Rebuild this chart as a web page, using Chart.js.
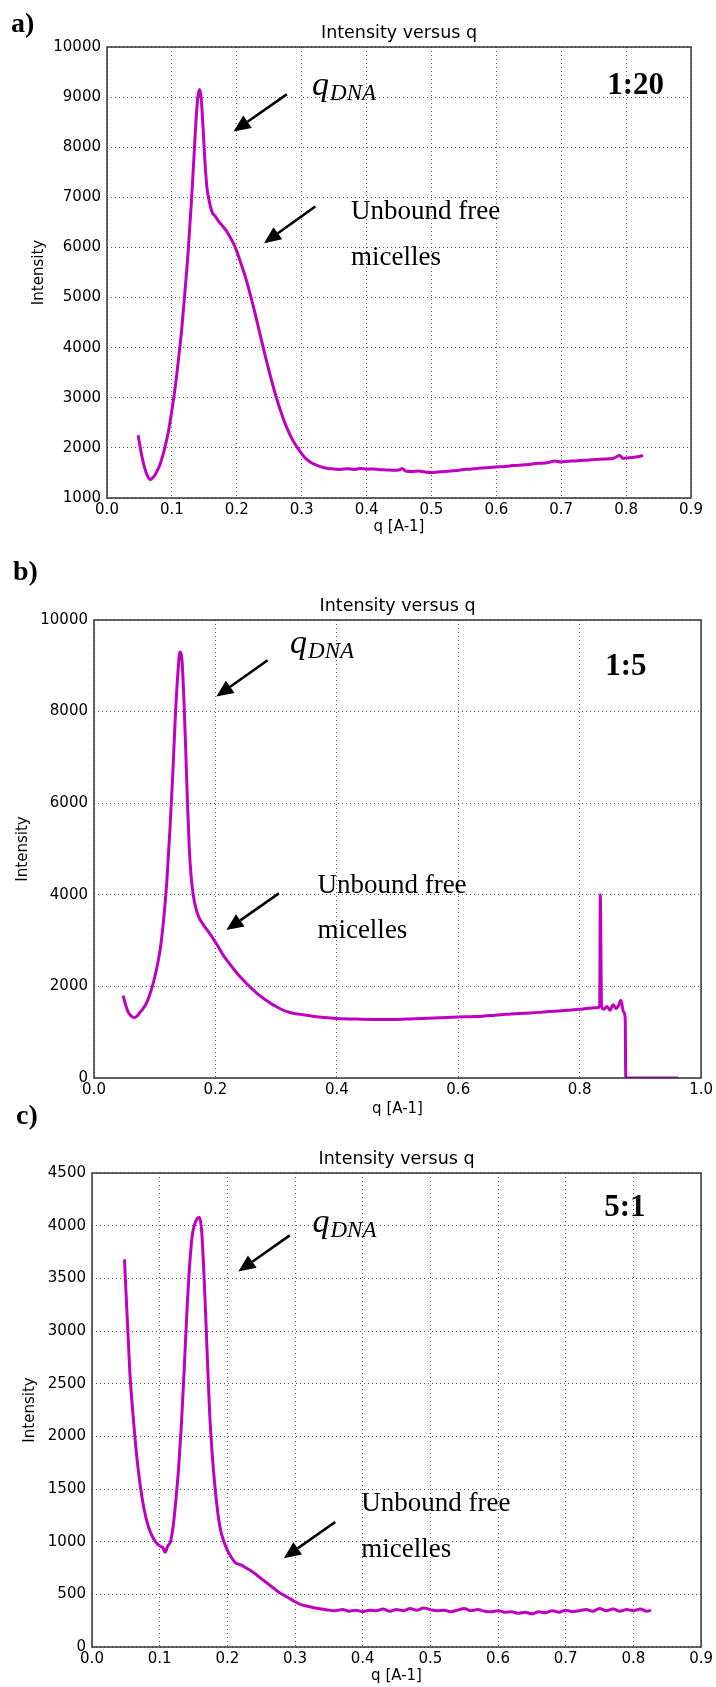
<!DOCTYPE html>
<html>
<head>
    <meta charset="utf-8">
    <title>Intensity versus q</title>
    <script src="https://cdn.jsdelivr.net/npm/chart.js"></script>
    <style>
        body { margin: 0; background: #fff; width: 716px; height: 1687px; position: relative; overflow: hidden; }
        canvas { position: absolute; left: 0; }
    </style>
</head>
<body>
    <canvas id="chartA" width="716" height="550" style="top:0px"></canvas>
    <canvas id="chartB" width="716" height="580" style="top:545px"></canvas>
    <canvas id="chartC" width="716" height="597" style="top:1090px"></canvas>
    <script>
        // a) 1:20
        var qA = [0.048, 0.052, 0.056, 0.060, 0.064, 0.067, 0.070, 0.074, 0.078, 0.082, 0.086, 0.090, 0.095, 0.100, 0.105, 0.110,
            0.115, 0.120, 0.125, 0.130, 0.134, 0.137, 0.140, 0.1425, 0.145, 0.148, 0.151, 0.154, 0.158, 0.162, 0.167, 0.172,
            0.178, 0.184, 0.190, 0.196, 0.202, 0.208, 0.214, 0.220, 0.226, 0.232, 0.238, 0.244, 0.250, 0.256, 0.262, 0.268,
            0.274, 0.280, 0.286, 0.292, 0.298, 0.304, 0.312, 0.320, 0.330, 0.340, 0.350, 0.360, 0.37, 0.38, 0.39, 0.40, 0.41,
            0.42, 0.43, 0.44, 0.45, 0.455, 0.46, 0.47, 0.48, 0.49, 0.50, 0.51, 0.52, 0.53, 0.54, 0.55, 0.56, 0.57, 0.58, 0.59,
            0.60, 0.61, 0.62, 0.63, 0.64, 0.65, 0.66, 0.67, 0.68, 0.69, 0.70, 0.71, 0.72, 0.73, 0.74, 0.75, 0.76, 0.77, 0.78,
            0.79, 0.795, 0.80, 0.81, 0.82, 0.826];
        var intensityA = [2250, 1950, 1700, 1520, 1400, 1370, 1400, 1460, 1560, 1680, 1850, 2050, 2350, 2750, 3200, 3750,
            4350, 5100, 5900, 6900, 7800, 8500, 9000, 9150, 9000, 8400, 7700, 7200, 6900, 6700, 6620, 6520,
            6430, 6330, 6200, 6050, 5850, 5620, 5380, 5100, 4800, 4480, 4150, 3830, 3520, 3230, 2960, 2720,
            2500, 2320, 2160, 2030, 1920, 1820, 1730, 1670, 1620, 1590, 1580, 1570, 1585, 1570, 1590, 1575, 1580,
            1565, 1560, 1555, 1560, 1590, 1540, 1530, 1540, 1520, 1510, 1520, 1530, 1540, 1550, 1570, 1575, 1590, 1600, 1610,
            1620, 1625, 1640, 1650, 1660, 1670, 1690, 1695, 1710, 1740, 1720, 1735, 1740, 1750, 1755, 1765, 1775, 1780, 1790,
            1850, 1790, 1800, 1810, 1830, 1850];

        // b) 1:5
        var qB = [0.048, 0.052, 0.056, 0.060, 0.065, 0.070, 0.075, 0.080, 0.085, 0.090, 0.095, 0.100, 0.105, 0.110, 0.115,
            0.120, 0.125, 0.130, 0.134, 0.138, 0.1415, 0.145, 0.148, 0.151, 0.154, 0.157, 0.160, 0.164, 0.168, 0.173, 0.180,
            0.188, 0.196, 0.204, 0.212, 0.220, 0.230, 0.240, 0.250, 0.260, 0.270, 0.280, 0.290, 0.300, 0.310, 0.320, 0.330,
            0.345, 0.360, 0.380, 0.40, 0.42, 0.44, 0.46, 0.48, 0.50, 0.52, 0.54, 0.56, 0.58, 0.60, 0.62, 0.64, 0.66, 0.68,
            0.70, 0.72, 0.74, 0.76, 0.78, 0.80, 0.82, 0.833, 0.834, 0.836, 0.840, 0.845, 0.850, 0.855, 0.860, 0.864, 0.868,
            0.872, 0.875, 0.876, 0.962];
        var intensityB = [1800, 1600, 1450, 1370, 1320, 1340, 1420, 1500, 1600, 1750, 1950, 2200, 2500, 2900, 3500,
            4300, 5400, 6700, 7900, 8800, 9300, 9100, 8300, 7200, 6000, 5000, 4400, 3950, 3700, 3500, 3350,
            3200, 3050, 2880, 2700, 2550, 2380, 2220, 2080, 1950, 1830, 1730, 1640, 1560, 1490, 1440, 1410,
            1380, 1350, 1320, 1300, 1290, 1285, 1280, 1275, 1280, 1290, 1300, 1310, 1320, 1330, 1340, 1350, 1370, 1390,
            1410, 1420, 1440, 1460, 1480, 1500, 1530, 1550, 4000, 1580, 1500, 1560, 1480, 1600, 1520, 1580, 1700,
            1450, 1300, 0, 0];

        // c) 5:1
        var qC = [0.048, 0.050, 0.053, 0.056, 0.060, 0.064, 0.068, 0.072, 0.076, 0.080, 0.085, 0.090, 0.095, 0.100, 0.105,
            0.108, 0.112, 0.116, 0.120, 0.124, 0.128, 0.132, 0.136, 0.140, 0.144, 0.148, 0.152, 0.156, 0.159, 0.162, 0.165,
            0.168, 0.171, 0.174, 0.178, 0.182, 0.186, 0.190, 0.195, 0.200, 0.206, 0.212, 0.220, 0.228, 0.236, 0.244, 0.252,
            0.260, 0.268, 0.276, 0.284, 0.292, 0.300, 0.310, 0.320, 0.330, 0.340, 0.350, 0.36, 0.37, 0.38, 0.39, 0.40, 0.41,
            0.42, 0.43, 0.44, 0.45, 0.46, 0.47, 0.48, 0.49, 0.50, 0.51, 0.52, 0.53, 0.54, 0.55, 0.56, 0.57, 0.58, 0.59, 0.60,
            0.61, 0.62, 0.63, 0.64, 0.65, 0.66, 0.67, 0.68, 0.69, 0.70, 0.71, 0.72, 0.73, 0.74, 0.75, 0.76, 0.77, 0.78, 0.79,
            0.80, 0.81, 0.82, 0.826];
        var intensityC = [3680, 3400, 3000, 2600, 2250, 1950, 1700, 1500, 1340, 1220, 1110, 1040, 990, 960, 940,
            900, 960, 1000, 1150, 1400, 1700, 2100, 2600, 3150, 3600, 3900, 4020, 4070, 4080, 3950, 3600,
            3150, 2650, 2200, 1800, 1500, 1270, 1110, 1000, 920, 850, 800, 780, 750, 720, 680, 640,
            600, 560, 520, 490, 460, 430, 400, 385, 370, 360, 350, 345, 355, 340, 350, 335, 350,
            345, 360, 340, 355, 345, 365, 350, 370, 355, 345, 350, 335, 350, 365, 345, 355, 340, 335, 345,
            330, 335, 320, 330, 315, 335, 325, 345, 330, 350, 335, 345, 355, 340, 365, 345, 360, 340, 355,
            345, 360, 340, 350];

        var xTicksA = [0, 0.9, 0.1];
        var yTicksA = [1000, 10000, 1000];
        var xTicksB = [0, 1.0, 0.2];
        var yTicksB = [0, 10000, 2000];
        var xTicksC = [0, 0.9, 0.1];
        var yTicksC = [0, 4500, 500];

        var lineColor = '#c000c0';
        var tickFont = { family: 'DejaVu Sans', size: 15 };

        function drawArrow(ctx, x1, y1, x2, y2) {
            var ang = Math.atan2(y2 - y1, x2 - x1);
            var len = 17, half = 7.5;
            var bx = x2 - len * Math.cos(ang), by = y2 - len * Math.sin(ang);
            ctx.strokeStyle = '#000';
            ctx.lineWidth = 2.6;
            ctx.beginPath();
            ctx.moveTo(x1, y1);
            ctx.lineTo(bx, by);
            ctx.stroke();
            ctx.fillStyle = '#000';
            ctx.beginPath();
            ctx.moveTo(x2, y2);
            ctx.lineTo(bx + half * Math.sin(ang), by - half * Math.cos(ang));
            ctx.lineTo(bx - half * Math.sin(ang), by + half * Math.cos(ang));
            ctx.closePath();
            ctx.fill();
        }

        function makePanel(cfg) {
            var points = cfg.q.map(function(q, i) { return { x: q, y: cfg.intensity[i] }; });

            var extras = {
                id: 'extras',
                afterDraw: function(chart) {
                    var ctx = chart.ctx;
                    var a = chart.chartArea;
                    var sx = chart.scales.x, sy = chart.scales.y;
                    ctx.save();

                    // frame
                    ctx.strokeStyle = '#333';
                    ctx.lineWidth = 1.5;
                    ctx.strokeRect(a.left, a.top, a.right - a.left, a.bottom - a.top);

                    // panel letter
                    ctx.fillStyle = '#000';
                    ctx.textAlign = 'left';
                    ctx.textBaseline = 'alphabetic';
                    ctx.font = 'bold 28px "Liberation Serif"';
                    ctx.fillText(cfg.letter, cfg.letterPos[0], cfg.letterPos[1]);

                    // title + axis labels
                    ctx.font = '17.5px "DejaVu Sans"';
                    ctx.textAlign = 'center';
                    ctx.fillText('Intensity versus q', (a.left + a.right) / 2, a.top - 9);
                    ctx.font = '15px "DejaVu Sans"';
                    ctx.textBaseline = 'middle';
                    ctx.fillText('q [A-1]', (a.left + a.right) / 2, cfg.xLabelY);
                    ctx.save();
                    ctx.translate(cfg.yLabelX, (a.top + a.bottom) / 2);
                    ctx.rotate(-Math.PI / 2);
                    ctx.fillText('Intensity', 0, 0);
                    ctx.restore();

                    // arrows
                    cfg.arrows.forEach(function(ar) {
                        drawArrow(ctx, sx.getPixelForValue(ar[0]), sy.getPixelForValue(ar[1]),
                            sx.getPixelForValue(ar[2]), sy.getPixelForValue(ar[3]));
                    });

                    // q_DNA
                    ctx.textAlign = 'left';
                    ctx.textBaseline = 'alphabetic';
                    var qx = sx.getPixelForValue(cfg.qdna[0]);
                    var qy = sy.getPixelForValue(cfg.qdna[1]);
                    ctx.font = 'italic 34px "Liberation Serif"';
                    ctx.fillText('q', qx, qy - 5);
                    var w = ctx.measureText('q').width;
                    ctx.font = 'italic 23px "Liberation Serif"';
                    ctx.fillText('DNA', qx + w + 1, qy);

                    // ratio
                    ctx.font = 'bold 31px "Liberation Serif"';
                    ctx.fillText(cfg.ratio, sx.getPixelForValue(cfg.ratioPos[0]), sy.getPixelForValue(cfg.ratioPos[1]));

                    // micelles note
                    ctx.font = '27px "Liberation Serif"';
                    var ux = sx.getPixelForValue(cfg.note[0]);
                    ctx.fillText('Unbound free', ux, sy.getPixelForValue(cfg.note[1]));
                    ctx.fillText('micelles', ux, sy.getPixelForValue(cfg.note[2]));

                    ctx.restore();
                }
            };

            var ctx = document.getElementById(cfg.id).getContext('2d');
            return new Chart(ctx, {
                type: 'scatter',
                data: {
                    datasets: [{
                        data: points,
                        showLine: true,
                        borderColor: lineColor,
                        borderWidth: 3,
                        pointRadius: 0,
                        cubicInterpolationMode: 'monotone'
                    }]
                },
                options: {
                    responsive: false,
                    animation: false,
                    devicePixelRatio: 1,
                    layout: { padding: cfg.padding },
                    plugins: { legend: { display: false }, title: { display: false }, tooltip: { enabled: false } },
                    scales: {
                        x: {
                            type: 'linear',
                            min: cfg.xTicks[0],
                            max: cfg.xTicks[1],
                            afterFit: function(s) { s.height = 30; },
                            border: { display: false },
                            grid: { color: 'rgba(0,0,0,0.65)', lineWidth: 1, drawTicks: false },
                            ticks: {
                                stepSize: cfg.xTicks[2],
                                color: '#000',
                                font: tickFont,
                                padding: 3,
                                maxRotation: 0,
                                autoSkip: false,
                                callback: function(v) { return v.toFixed(1); }
                            }
                        },
                        y: {
                            min: cfg.yTicks[0],
                            max: cfg.yTicks[1],
                            afterFit: function(s) { s.width = cfg.yAxisWidth; },
                            border: { display: false },
                            grid: { color: 'rgba(0,0,0,0.65)', lineWidth: 1, drawTicks: false },
                            ticks: {
                                stepSize: cfg.yTicks[2],
                                color: '#000',
                                font: tickFont,
                                padding: 6,
                                autoSkip: false,
                                callback: function(v) { return String(Math.round(v)); }
                            }
                        }
                    }
                },
                plugins: [extras]
            });
        }

        // dotted grid for all scales
        Chart.defaults.scale.grid.borderDash = [1, 3];
        Chart.defaults.scale.border.dash = [1, 3];

        makePanel({
            id: 'chartA', q: qA, intensity: intensityA, xTicks: xTicksA, yTicks: yTicksA,
            padding: { left: 0, right: 25, top: 47, bottom: 22 }, yAxisWidth: 107,
            letter: 'a)', letterPos: [11, 32], xLabelY: 527, yLabelX: 39.5,
            arrows: [[0.277, 9054, 0.195, 8314], [0.321, 6818, 0.242, 6086]],
            qdna: [0.316, 8944], ratio: '1:20', ratioPos: [0.771, 9058],
            note: [0.376, 6569, 5650]
        });

        makePanel({
            id: 'chartB', q: qB, intensity: intensityB, xTicks: xTicksB, yTicks: yTicksB,
            padding: { left: 0, right: 14, top: 75, bottom: 17 }, yAxisWidth: 94,
            letter: 'b)', letterPos: [13, 35], xLabelY: 564.5, yLabelX: 23.5,
            arrows: [[0.286, 9121, 0.2015, 8327], [0.3045, 4031, 0.218, 3230]],
            qdna: [0.323, 9160], ratio: '1:5', ratioPos: [0.842, 8794],
            note: [0.368, 4040, 3055]
        });

        makePanel({
            id: 'chartC', q: qC, intensity: intensityC, xTicks: xTicksC, yTicks: yTicksC,
            padding: { left: 0, right: 13, top: 83, bottom: 10 }, yAxisWidth: 92,
            letter: 'c)', letterPos: [16, 34], xLabelY: 586, yLabelX: 30.5,
            arrows: [[0.2922, 3908, 0.2163, 3565], [0.3594, 1187, 0.2834, 843]],
            qdna: [0.3258, 3891], ratio: '5:1', ratioPos: [0.757, 4092],
            note: [0.398, 1290, 854]
        });
    </script>
</body>
</html>
